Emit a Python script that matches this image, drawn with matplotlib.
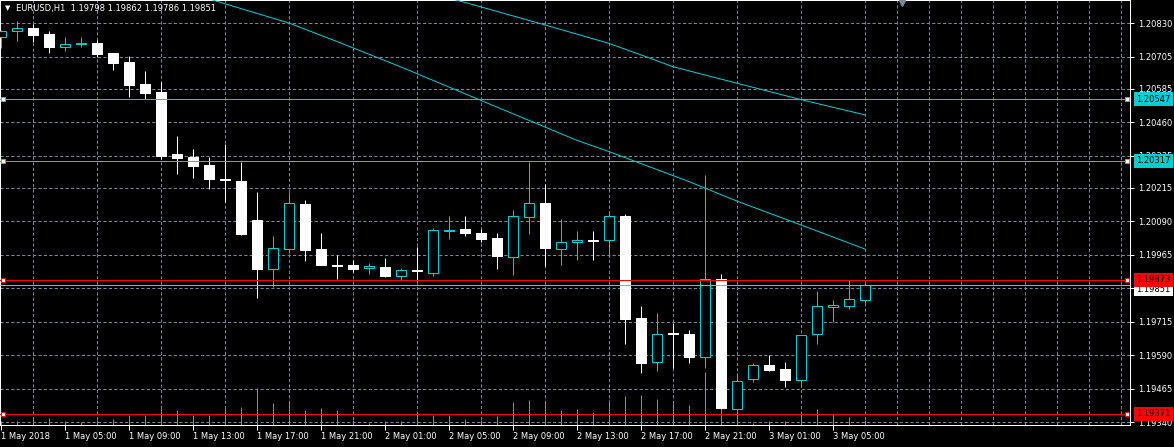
import matplotlib
matplotlib.use("Agg")
import matplotlib.pyplot as plt
import numpy as np

### EURUSD H1 bars from 1 May 2018 01:00

opens  = [1.20780, 1.20800, 1.20812, 1.20790, 1.20743, 1.20751, 1.20756, 1.20719, 1.20686, 1.20603,
          1.20573, 1.20342, 1.20331, 1.20301, 1.20247, 1.20241, 1.20095, 1.19911, 1.19988, 1.20155,
          1.19987, 1.19927, 1.19927, 1.19918, 1.19920, 1.19887, 1.19908, 1.19899, 1.20056, 1.20062,
          1.20047, 1.20028, 1.19958, 1.20108, 1.20159, 1.19988, 1.20012, 1.20020, 1.20020, 1.20112,
          1.19730, 1.19564, 1.19672, 1.19670, 1.19583, 1.19874, 1.19391, 1.19501, 1.19553, 1.19539,
          1.19499, 1.19669, 1.19772, 1.19775, 1.19798]
highs  = [1.20805, 1.20837, 1.20827, 1.20801, 1.20778, 1.20779, 1.20768, 1.20720, 1.20708, 1.20652,
          1.20611, 1.20409, 1.20361, 1.20332, 1.20378, 1.20312, 1.20200, 1.20036, 1.20200, 1.20170,
          1.20047, 1.19965, 1.19946, 1.19935, 1.19952, 1.19917, 1.19994, 1.20066, 1.20109, 1.20110,
          1.20063, 1.20047, 1.20133, 1.20312, 1.20230, 1.20099, 1.20054, 1.20054, 1.20120, 1.20118,
          1.19773, 1.19748, 1.19711, 1.19685, 1.20264, 1.19894, 1.19525, 1.19561, 1.19591, 1.19565,
          1.19666, 1.19830, 1.19796, 1.19871, 1.19862]
lows   = [1.20739, 1.20765, 1.20759, 1.20720, 1.20728, 1.20743, 1.20703, 1.20656, 1.20556, 1.20547,
          1.20323, 1.20268, 1.20253, 1.20212, 1.20164, 1.20039, 1.19805, 1.19846, 1.19971, 1.19943,
          1.19926, 1.19875, 1.19901, 1.19894, 1.19884, 1.19869, 1.19869, 1.19886, 1.20026, 1.20036,
          1.20013, 1.19914, 1.19891, 1.20044, 1.19924, 1.19928, 1.19945, 1.19947, 1.19958, 1.19633,
          1.19525, 1.19533, 1.19542, 1.19563, 1.19542, 1.19393, 1.19390, 1.19492, 1.19532, 1.19472,
          1.19472, 1.19633, 1.19716, 1.19764, 1.19786]
closes = [1.20801, 1.20811, 1.20787, 1.20742, 1.20753, 1.20755, 1.20717, 1.20683, 1.20601, 1.20570,
          1.20336, 1.20328, 1.20298, 1.20250, 1.20245, 1.20044, 1.19914, 1.19990, 1.20158, 1.19985,
          1.19928, 1.19925, 1.19914, 1.19922, 1.19886, 1.19908, 1.19905, 1.20057, 1.20058, 1.20048,
          1.20026, 1.19962, 1.20109, 1.20159, 1.19992, 1.20013, 1.20021, 1.20017, 1.20109, 1.19727,
          1.19563, 1.19670, 1.19669, 1.19585, 1.19874, 1.19395, 1.19493, 1.19553, 1.19536, 1.19498,
          1.19665, 1.19773, 1.19778, 1.19799, 1.19851]
volumes = [258, 222, 438, 438, 258, 180, 300, 378, 618, 618,
           1140, 900, 618, 618, 1020, 1098, 2220, 1320, 1380, 918,
           1020, 918, 300, 150, 270, 240, 720, 618, 618, 378,
           300, 558, 1380, 1500, 1362, 900, 978, 780, 1500, 1740,
           1800, 1560, 1338, 1200, 3180, 2220, 960, 150, 270, 240,
           642, 978, 642, 498, 300]

time_labels = ["1 May 2018", "1 May 05:00", "1 May 09:00", "1 May 13:00", "1 May 17:00",
               "1 May 21:00", "2 May 01:00", "2 May 05:00", "2 May 09:00", "2 May 13:00",
               "2 May 17:00", "2 May 21:00", "3 May 01:00", "3 May 05:00"]
price_ticks = [1.20830, 1.20705, 1.20585, 1.20460, 1.20335, 1.20215, 1.20090,
               1.19965, 1.19840, 1.19715, 1.19590, 1.19465, 1.19340]

### moving averages (bar index, value)
ma_fast_idx = [13, 18, 21, 25, 30, 36, 38, 43, 46, 50, 54]
ma_fast = [1.20921, 1.20831, 1.20762, 1.20667, 1.20542, 1.20393, 1.20351, 1.20239, 1.20166, 1.20077, 1.19987]
ma_slow_idx = [28, 29, 34, 38, 40, 42, 44, 50, 54]
ma_slow = [1.20924, 1.20908, 1.20824, 1.20755, 1.20712, 1.20668, 1.20637, 1.20545, 1.20488]

### horizontal lines
cyan_levels = [1.20547, 1.20317]
red_levels = [1.19873, 1.19371]
bid = closes[-1]

BG = "#000000"
WHITE = "#ffffff"
GRID = "#778899"
CYAN = "#00ced1"
RED = "#ff0000"
VOLC = "#32cd32"
BIDC = "#a0a8b0"
PX = 0.72  # one pixel in points

plt.rcParams['font.family'] = ['DejaVu Sans']
plt.rcParams['lines.scale_dashes'] = False

W, H = 1174, 447
fig = plt.figure(figsize=(W / 100, H / 100), dpi=100, facecolor=BG)
ax = fig.add_axes([0, 22 / H, 1130 / W, 425 / H], facecolor=BG)

o = np.array(opens); h = np.array(highs); l = np.array(lows); c = np.array(closes)
x = np.arange(len(o))
up = c > o

### grid
ax.set_xlim(-0.0625, 70.5625)
ax.set_ylim(1.193299, 1.20917)
ax.set_xticks(np.arange(2, 71, 2), minor=True)
ax.grid(which='minor', axis='x', color=GRID, lw=PX, linestyle=(0, (2.3, 1.6)), zorder=0)
ax.grid(which='major', axis='y', color=GRID, lw=PX, linestyle=(0, (2.3, 1.6)), zorder=0)
ax.set_axisbelow(True)

### volumes
VOL_TOP = 25500
ax.vlines(x, 0, np.array(volumes) / VOL_TOP, transform=ax.get_xaxis_transform(),
          colors=VOLC, lw=PX, zorder=1)

### candles
ax.vlines(x, l, h, colors=np.where(up, CYAN, WHITE), lw=PX, zorder=2)
body = np.maximum(np.abs(c - o), 0.00002)
ax.bar(x, body, bottom=np.minimum(o, c), width=0.62,
       color=np.where(up, BG, WHITE), edgecolor=np.where(up, CYAN, WHITE),
       linewidth=PX, zorder=3)

### moving averages
ax.plot(ma_fast_idx, ma_fast, color=CYAN, lw=PX, zorder=4)
ax.plot(ma_slow_idx, ma_slow, color=CYAN, lw=PX, zorder=4)

### levels
ax.axhline(bid, color=BIDC, lw=PX, zorder=4)
for lvl, col in [(v, CYAN) for v in cyan_levels] + [(v, RED) for v in red_levels]:
    ax.axhline(lvl, color=col, lw=PX, zorder=5)
    ax.plot([3 / 1130, 1127 / 1130], [lvl, lvl], 's', ms=3.2, mfc=WHITE, mec=col, mew=PX,
            transform=ax.get_yaxis_transform(), clip_on=False, zorder=6)

# price labels on the right scale, bid label nudged down below the red one
boxes = [(cyan_levels[0], CYAN, 0, 8), (cyan_levels[1], CYAN, 0, 8),
         (bid, WHITE, -2.6, 7), (red_levels[0], RED, 0, 8), (red_levels[1], RED, 0, 8)]
for lvl, col, dy, z in boxes:
    ax.annotate("%.5f" % lvl, xy=(1136 / 1130, lvl), xycoords=ax.get_yaxis_transform(),
                xytext=(0, dy), textcoords='offset points',
                ha='left', va='center', fontsize=6, color='black', annotation_clip=False,
                zorder=z, bbox=dict(boxstyle='square,pad=0.3', fc=col, ec='none'))

### axes styling
for s in ax.spines.values():
    s.set_color(WHITE)
    s.set_linewidth(PX)

ax.yaxis.tick_right()
ax.set_yticks(price_ticks)
ax.set_yticklabels(["%.5f" % v for v in price_ticks])
ax.set_xticks(np.arange(0, 4 * len(time_labels), 4))
ax.set_xticklabels(time_labels)
for t in ax.get_xticklabels():
    t.set_ha('left')
ax.tick_params(axis='both', which='major', colors=WHITE, labelsize=6, width=PX)
ax.tick_params(axis='x', which='major', length=3.5, pad=1.5)
ax.tick_params(axis='y', which='major', length=3, pad=2.5)
ax.tick_params(which='minor', length=0)

### header
ax.annotate("\u25bc", xy=(0, 1), xycoords='axes fraction', xytext=(3.5, -5.8),
            textcoords='offset points', fontsize=5, color=WHITE, ha='left', va='center')
ax.annotate("EURUSD,H1  %.5f %.5f %.5f %.5f" % (o[-1], h[-1], l[-1], c[-1]),
            xy=(0, 1), xycoords='axes fraction', xytext=(11.5, -5.8),
            textcoords='offset points', fontsize=6, color=WHITE, ha='left', va='center')
ax.plot([56.3], [1 - 2.5 / 425], marker='v', ms=5, color=GRID,
        transform=ax.get_xaxis_transform(), clip_on=False, zorder=6)

fig.savefig("out.png", dpi=100, facecolor=BG)
